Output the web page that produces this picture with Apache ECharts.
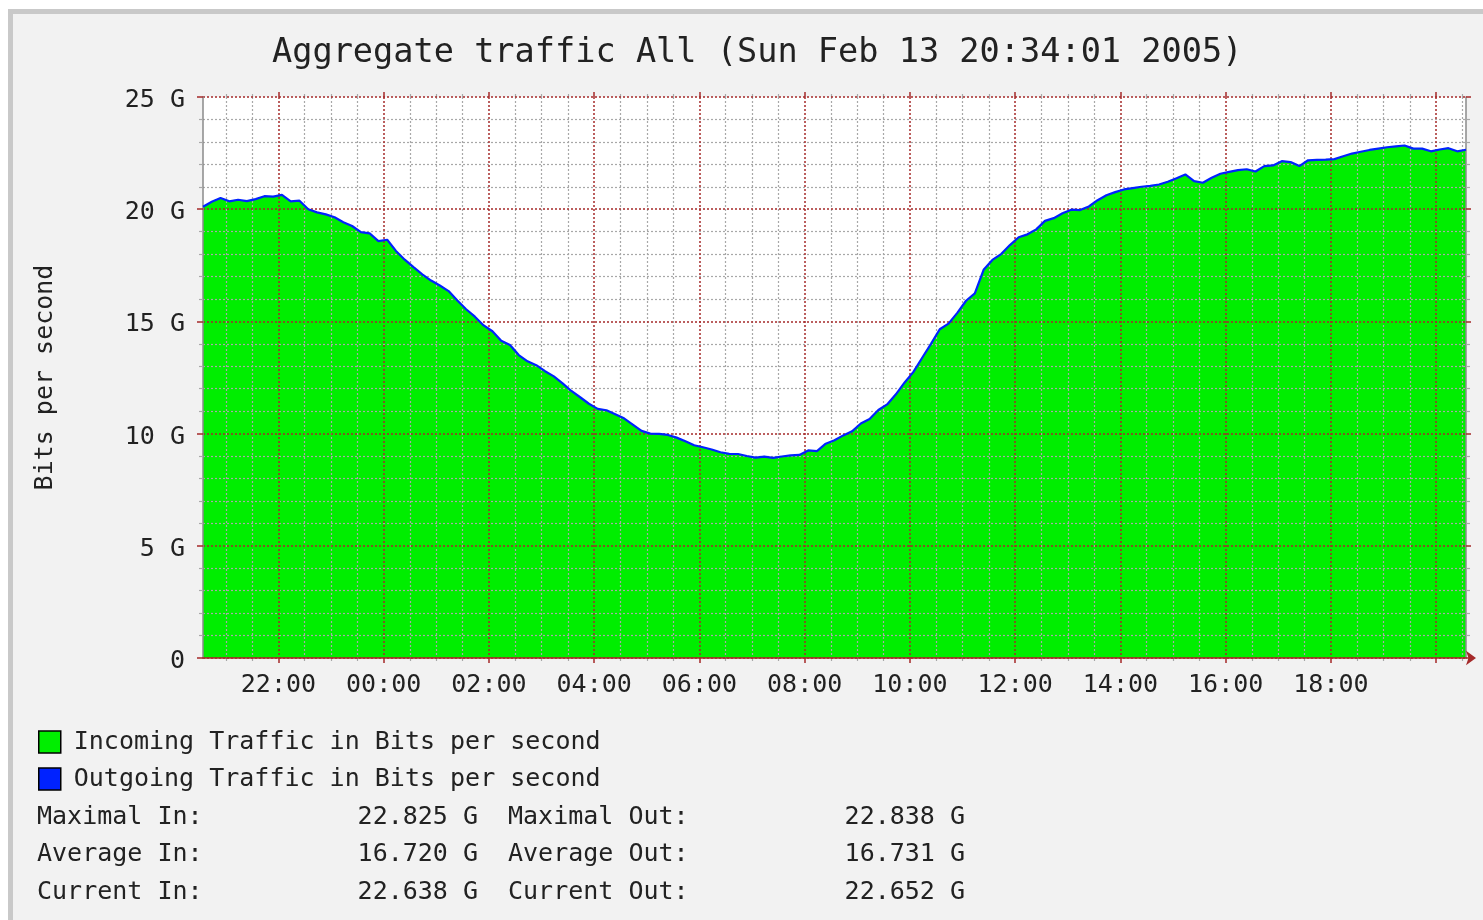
<!DOCTYPE html>
<html lang="en">
<head>
    <meta charset="UTF-8">
    <title>Aggregate traffic All</title>
    <script src="https://cdn.jsdelivr.net/npm/echarts@6.0.0/dist/echarts.min.js"></script>
    <style>
        body {
            margin: 0;
            background: #fff;
            overflow: hidden;
        }
        .frame {
            position: absolute;
            left: 8px;
            top: 9px;
            width: 1500px;
            height: 940px;
            border-left: 5px solid #c9c9c9;
            border-top: 5px solid #c9c9c9;
            background: #f2f2f2;
        }
        #chart {
            position: absolute;
            left: 0;
            top: 0;
            width: 1483px;
            height: 920px;
        }
    </style>
</head>
<body>
    <div class="frame"></div>
    <div id="chart"></div>
    <script type="text/javascript">
        const titleText = 'Aggregate traffic All (Sun Feb 13 20:34:01 2005)';
        const yAxisName = 'Bits per second';
        const seriesNames = ['Incoming Traffic in Bits per second', 'Outgoing Traffic in Bits per second'];

        // hours since midnight Feb 12, one sample every 10 minutes from 20:34
        const startHour = 20 + 34 / 60;
        const stepHours = 1 / 6;
        const endHour = 44 + 34 / 60;

        // Gbit/s
        const outgoing = [
            20.11, 20.33, 20.50, 20.35, 20.42, 20.36, 20.45, 20.58, 20.56, 20.64,
            20.35, 20.38, 20.00, 19.86, 19.77, 19.64, 19.42, 19.25, 18.98, 18.92,
            18.58, 18.64, 18.14, 17.75, 17.42, 17.10, 16.82, 16.60, 16.35, 15.93,
            15.54, 15.21, 14.82, 14.56, 14.14, 13.95, 13.50, 13.22, 13.05, 12.78,
            12.55, 12.24, 11.90, 11.62, 11.33, 11.10, 11.04, 10.86, 10.68, 10.40,
            10.12, 10.00, 9.99, 9.94, 9.82, 9.66, 9.48, 9.39, 9.29, 9.17,
            9.10, 9.09, 9.00, 8.93, 8.97, 8.92, 8.98, 9.03, 9.05, 9.25,
            9.22, 9.55, 9.70, 9.92, 10.10, 10.45, 10.65, 11.05, 11.30, 11.75,
            12.28, 12.75, 13.38, 14.00, 14.65, 14.90, 15.38, 15.92, 16.25, 17.30,
            17.74, 18.00, 18.40, 18.75, 18.88, 19.10, 19.48, 19.60, 19.82, 19.98,
            19.96, 20.12, 20.40, 20.62, 20.76, 20.88, 20.94, 21.00, 21.04, 21.10,
            21.22, 21.38, 21.55, 21.25, 21.18, 21.40, 21.58, 21.66, 21.74, 21.78,
            21.68, 21.92, 21.95, 22.14, 22.10, 21.92, 22.18, 22.20, 22.21, 22.23,
            22.36, 22.48, 22.56, 22.64, 22.70, 22.76, 22.80, 22.84, 22.70, 22.70,
            22.58, 22.66, 22.72, 22.58, 22.65
        ];

        // Gbit/s, top of the green area
        const incoming = [
            20.10, 20.32, 20.48, 20.34, 20.41, 20.35, 20.44, 20.57, 20.55, 20.62,
            20.34, 20.37, 19.99, 19.85, 19.76, 19.63, 19.41, 19.24, 18.97, 18.91,
            18.57, 18.63, 18.13, 17.74, 17.41, 17.09, 16.81, 16.59, 16.34, 15.92,
            15.53, 15.20, 14.81, 14.55, 14.13, 13.94, 13.49, 13.21, 13.04, 12.77,
            12.54, 12.23, 11.89, 11.61, 11.32, 11.09, 11.03, 10.85, 10.67, 10.39,
            10.11, 9.99, 9.98, 9.93, 9.81, 9.65, 9.47, 9.38, 9.28, 9.16,
            9.09, 9.08, 8.99, 8.92, 8.96, 8.91, 8.97, 9.02, 9.04, 9.24,
            9.21, 9.54, 9.69, 9.91, 10.09, 10.44, 10.64, 11.04, 11.29, 11.74,
            12.27, 12.74, 13.37, 13.99, 14.64, 14.89, 15.37, 15.91, 16.24, 17.29,
            17.73, 17.99, 18.39, 18.74, 18.87, 19.09, 19.47, 19.59, 19.81, 19.97,
            19.95, 20.11, 20.39, 20.61, 20.75, 20.87, 20.93, 20.99, 21.03, 21.09,
            21.21, 21.37, 21.54, 21.24, 21.17, 21.39, 21.57, 21.65, 21.73, 21.77,
            21.67, 21.91, 21.94, 22.13, 22.09, 21.91, 22.17, 22.19, 22.20, 22.22,
            22.35, 22.47, 22.55, 22.63, 22.69, 22.75, 22.79, 22.82, 22.69, 22.69,
            22.57, 22.65, 22.71, 22.57, 22.64
        ];

        // x grid: labelled even hours, half-hour minor lines
        const majorHours = [22, 24, 26, 28, 30, 32, 34, 36, 38, 40, 42, 44];
        const labelHours = [22, 24, 26, 28, 30, 32, 34, 36, 38, 40, 42];
        const minorHours = [];
        for (let h = 21; h <= 44.5; h += 0.5) {
            if (h % 2 !== 0) minorHours.push(h);
        }

        const statRows = [
            ['Maximal In:', '22.825 G', 'Maximal Out:', '22.838 G'],
            ['Average In:', '16.720 G', 'Average Out:', '16.731 G'],
            ['Current In:', '22.638 G', 'Current Out:', '22.652 G']
        ];

        const font = '"DejaVu Sans Mono", monospace';
        const ink = '#222';
        const red = '#a52a2a';
        const gray = '#a8a8a8';
        const dots = [2, 2];

        const times = outgoing.map((_, i) => startHour + i * stepHours);
        const pairs = vals => vals.map((v, i) => [times[i], v]);

        const chart = echarts.init(document.getElementById('chart'));

        const xBase = {
            type: 'value',
            min: startHour,
            max: endHour,
            gridIndex: 0,
            axisLabel: { show: false },
            axisLine: { show: false },
            splitLine: { show: false }
        };

        const stats = [];
        statRows.forEach((row, i) => {
            const y = 817 + i * 37.7;
            const cols = [[37, 'left'], [478, 'right'], [508, 'left'], [965, 'right']];
            cols.forEach(([x, align], j) => {
                stats.push({
                    type: 'text',
                    x: x,
                    y: y,
                    style: {
                        text: row[j],
                        fontFamily: font,
                        fontSize: 25,
                        fill: ink,
                        align: align,
                        verticalAlign: 'middle'
                    }
                });
            });
        });

        chart.setOption({
            animation: false,
            textStyle: { fontFamily: font },
            title: {
                text: titleText,
                left: 267,
                top: 31,
                textStyle: { fontFamily: font, fontSize: 33.6, fontWeight: 'normal', color: ink }
            },
            grid: {
                left: 203,
                right: 17,
                top: 97,
                bottom: 262,
                show: true,
                backgroundColor: '#fff',
                borderWidth: 0
            },
            legend: {
                orient: 'vertical',
                left: 38,
                top: 729,
                padding: 0,
                itemWidth: 22,
                itemHeight: 22,
                itemGap: 11,
                icon: 'rect',
                selectedMode: false,
                itemStyle: { borderColor: '#000', borderWidth: 1.5 },
                textStyle: {
                    fontFamily: font,
                    fontSize: 25,
                    color: ink,
                    lineHeight: 26,
                    padding: [0, 0, 0, 8]
                },
                data: seriesNames
            },
            xAxis: [
                Object.assign({}, xBase, {
                    position: 'bottom',
                    z: 6,
                    axisLine: {
                        show: true,
                        symbol: ['none', 'arrow'],
                        symbolSize: [11, 10],
                        symbolOffset: [0, 10],
                        lineStyle: { color: red, width: 1.5 }
                    },
                    axisTick: {
                        show: true,
                        length: 5,
                        customValues: majorHours,
                        lineStyle: { color: red, width: 1.5 }
                    },
                    axisLabel: {
                        show: true,
                        customValues: labelHours,
                        margin: 15,
                        fontFamily: font,
                        fontSize: 25,
                        color: ink,
                        formatter: v => String(v % 24).padStart(2, '0') + ':00'
                    },
                    splitLine: { show: true, lineStyle: { color: red, width: 1.5, type: dots } }
                }),
                Object.assign({}, xBase, {
                    position: 'bottom',
                    z: 5,
                    axisTick: {
                        show: true,
                        length: 3,
                        customValues: minorHours,
                        lineStyle: { color: gray, width: 1.2 }
                    },
                    splitLine: { show: true, lineStyle: { color: gray, width: 1.2, type: dots } }
                }),
                Object.assign({}, xBase, {
                    position: 'top',
                    z: 6,
                    axisTick: {
                        show: true,
                        length: 5,
                        customValues: majorHours,
                        lineStyle: { color: red, width: 1.5 }
                    }
                }),
                Object.assign({}, xBase, {
                    position: 'top',
                    z: 5,
                    axisTick: {
                        show: true,
                        length: 3,
                        customValues: minorHours,
                        lineStyle: { color: gray, width: 1.2 }
                    }
                })
            ],
            yAxis: [
                {
                    type: 'value',
                    position: 'left',
                    min: 0,
                    max: 25,
                    interval: 5,
                    z: 6,
                    name: yAxisName,
                    nameLocation: 'middle',
                    nameRotate: 90,
                    nameGap: 145,
                    nameTextStyle: { fontFamily: font, fontSize: 25, color: ink },
                    axisLine: { show: true, lineStyle: { color: '#8a8a8a', width: 1.5 } },
                    axisTick: { show: true, length: 6, lineStyle: { color: red, width: 1.5 } },
                    minorTick: { show: true, splitNumber: 5, length: 4, lineStyle: { color: gray, width: 1.2 } },
                    axisLabel: {
                        margin: 18,
                        verticalAlign: 'top',
                        lineHeight: 7,
                        fontFamily: font,
                        fontSize: 25,
                        color: ink,
                        formatter: v => (v === 0 ? '0' : v + ' G')
                    },
                    splitLine: { show: true, lineStyle: { color: red, width: 1.5, type: dots } },
                    minorSplitLine: { show: true, lineStyle: { color: gray, width: 1.2, type: dots } }
                },
                {
                    type: 'value',
                    position: 'right',
                    min: 0,
                    max: 25,
                    interval: 5,
                    z: 6,
                    axisLine: { show: true, lineStyle: { color: '#8a8a8a', width: 1.5 } },
                    axisTick: { show: true, length: 5, lineStyle: { color: red, width: 1.5 } },
                    minorTick: { show: true, splitNumber: 5, length: 4, lineStyle: { color: gray, width: 1.2 } },
                    axisLabel: { show: false },
                    splitLine: { show: false }
                }
            ],
            series: [
                {
                    name: seriesNames[0],
                    type: 'line',
                    xAxisIndex: 0,
                    yAxisIndex: 0,
                    z: 1,
                    color: '#00ee00',
                    showSymbol: false,
                    lineStyle: { width: 0 },
                    areaStyle: { color: '#00ee00', opacity: 1 },
                    data: pairs(incoming)
                },
                {
                    name: seriesNames[1],
                    type: 'line',
                    xAxisIndex: 0,
                    yAxisIndex: 0,
                    z: 10,
                    color: '#0022ff',
                    showSymbol: false,
                    lineStyle: { width: 2.2, color: '#0022ff' },
                    data: pairs(outgoing)
                }
            ],
            graphic: stats
        });
    </script>
</body>
</html>
